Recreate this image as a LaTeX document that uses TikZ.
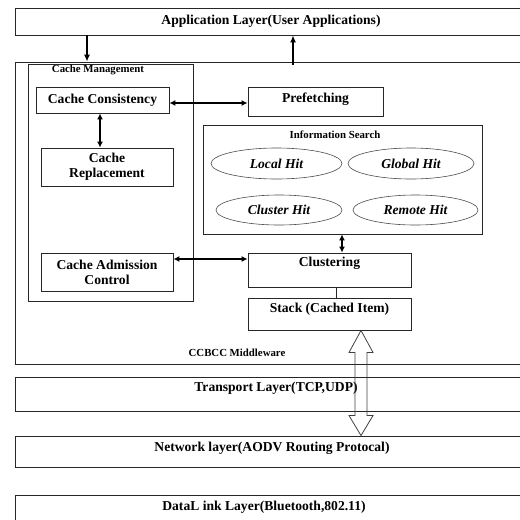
\documentclass[tikz,border=0pt]{standalone}
\usepackage{fontspec}
\setmainfont{Liberation Serif}
\usetikzlibrary{arrows.meta,calc,shapes.geometric}
\begin{document}
\begin{tikzpicture}[x=1pt,y=-1pt,
  box/.style={draw=black!85,line width=0.9pt,rectangle,inner sep=0pt,align=center,
    font=\fontsize{13.6}{15}\selectfont\bfseries},
  frame/.style={draw=black!85,line width=0.9pt,rectangle,inner sep=0pt},
  txt/.style={inner sep=0pt,font=\fontsize{13.6}{15}\selectfont\bfseries},
  lbl/.style={inner sep=0pt,font=\fontsize{10.8}{12}\selectfont\bfseries},
  hit/.style={ellipse,draw=black!70,line width=0.6pt,inner sep=0pt,
    font=\fontsize{13.6}{15}\selectfont\bfseries\itshape},
  arr/.style={line width=1.2pt,-{Latex[length=7pt,width=6pt]}},
  darr/.style={line width=1.2pt,{Latex[length=6pt,width=6pt]}-{Latex[length=6pt,width=6pt]}},
  hollow/.style={draw=black!75,line width=0.8pt,line join=miter}
]
\useasboundingbox (0,0) rectangle (520,520);
\clip (0,0) rectangle (520,520);

% layers
\node[box,minimum width=512pt,minimum height=27pt] (app) at (271,21.5) {Application Layer(User Applications)};
\node[frame,minimum width=512pt,minimum height=302pt] (mw) at (271,213) {};
\node[lbl] (mwt) at (237,353) {CCBCC Middleware};

% cache management
\node[frame,minimum width=164.5pt,minimum height=237pt] (cm) at (110.75,182.5) {};
\node[lbl] (cmt) at (98,69.5) {Cache Management};
\node[box,minimum width=133pt,minimum height=26pt] (cc) at (102.5,100) {Cache Consistency};
\node[box,minimum width=132pt,minimum height=38pt] (cr) at (107,167) {Cache\\Replacement};
\node[box,minimum width=132pt,minimum height=38pt] (ca) at (107,272) {Cache Admission\\Control};

% prefetching
\node[frame,minimum width=135pt,minimum height=29pt] (pf) at (315.5,101.5) {};
\node[txt] (pft) at (315.5,99) {Prefetching};

% information search
\node[frame,minimum width=279pt,minimum height=109pt] (is) at (342.5,179.5) {};
\node[lbl] (ist) at (335,135) {Information Search};
\node[hit,minimum width=131pt,minimum height=31pt] (lh) at (276.5,163.5) {Local Hit};
\node[hit,minimum width=126pt,minimum height=31pt] (gh) at (411,163.5) {Global Hit};
\node[hit,minimum width=126pt,minimum height=30pt] (ch) at (279,210) {Cluster Hit};
\node[hit,minimum width=125pt,minimum height=30pt] (rh) at (415.5,210) {Remote Hit};

% clustering and stack
\node[frame,minimum width=163pt,minimum height=34pt] (clu) at (329.5,270) {};
\node[txt] (clut) at (329.5,263.5) {Clustering};
\node[frame,minimum width=163pt,minimum height=32pt] (st) at (329.5,314) {};
\node[txt] (stt) at (329.5,309.5) {Stack (Cached Item)};

% lower layers
\node[frame,minimum width=512pt,minimum height=34pt] (tr) at (271,394) {};
\node[txt] (trt) at (276,388.5) {Transport Layer(TCP,UDP)};
\node[frame,minimum width=512pt,minimum height=31pt] (nw) at (271,451.5) {};
\node[txt] (nwt) at (272,448.5) {Network layer(AODV Routing Protocal)};
\node[frame,minimum width=512pt,minimum height=50pt] (dl) at (271,520) {};
\node[txt] (dlt) at (264,507.5) {DataL ink Layer(Bluetooth,802.11)};

% connectors
\coordinate (p1) at (87,0);
\draw[arr] (app.south -| p1) -- (mw.north -| p1);
\coordinate (p2) at (293,65);
\draw[arr] (p2) -- (app.south -| p2);
\coordinate (p3) at (0,103);
\draw[darr] (cc.east |- p3) -- (pf.west |- p3);
\coordinate (p4) at (100,0);
\draw[darr] (cc.south -| p4) -- (cr.north -| p4);
\coordinate (p5) at (342,0);
\draw[darr] (is.south -| p5) -- (clu.north -| p5);
\coordinate (p6) at (0,259);
\draw[darr] (ca.east |- p6) -- (clu.west |- p6);
\coordinate (p7) at (336,0);
\draw[line width=0.9pt,draw=black!85] (clu.south -| p7) -- (st.north -| p7);

% hollow double arrow
\coordinate (q) at (361,0);
\coordinate (ht) at (st.south -| q);
\coordinate (hb) at (nw.north -| q);
\draw[hollow] (ht) -- ($(ht)+(12,22)$) -- ($(ht)+(6,22)$) -- ($(hb)+(6,-20)$)
  -- ($(hb)+(12,-20)$) -- (hb) -- ($(hb)+(-12,-20)$) -- ($(hb)+(-6,-20)$)
  -- ($(ht)+(-6,22)$) -- ($(ht)+(-12,22)$) -- cycle;
\end{tikzpicture}
\end{document}
